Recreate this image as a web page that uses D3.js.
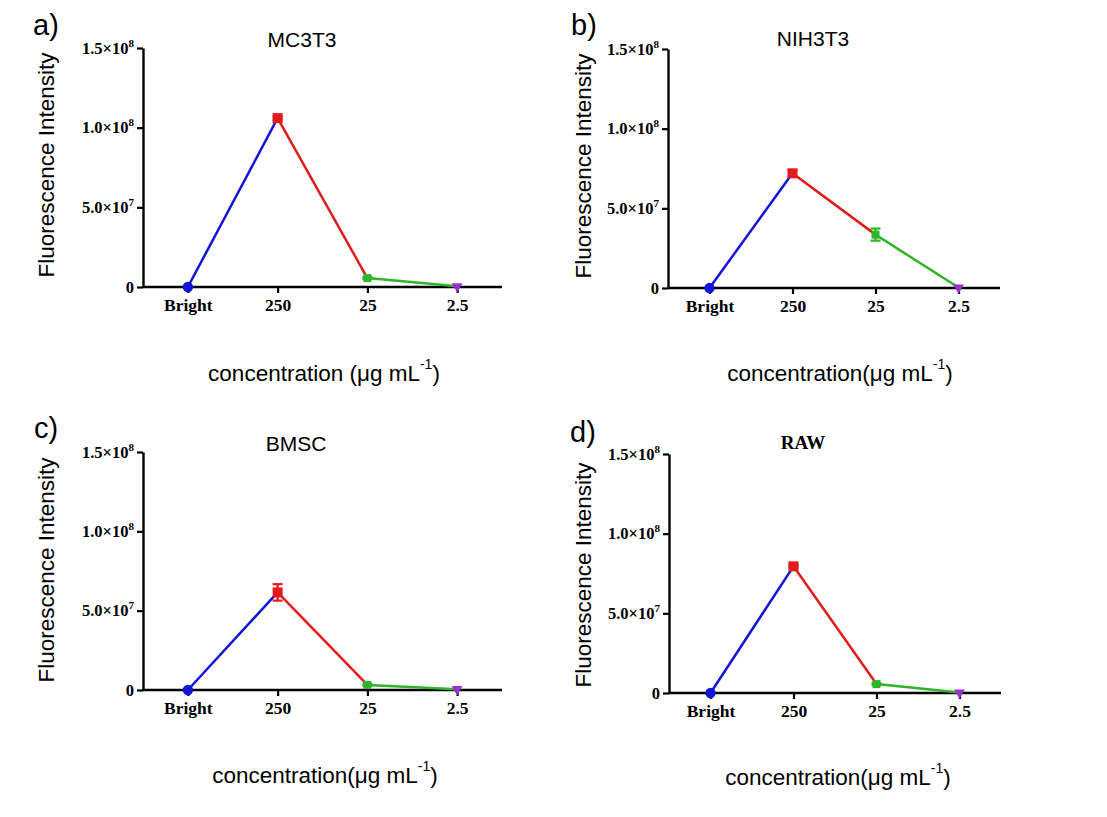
<!DOCTYPE html>
<html>
<head>
<meta charset="utf-8">
<script src="https://cdn.jsdelivr.net/npm/d3@7"></script>
<style>
  body { margin: 0; background: #fff; }
  svg { display: block; }
</style>
</head>
<body>
<svg id="chart" width="1107" height="817"></svg>
<script>
// data
var categories = ["Bright", "250", "25", "2.5"];
var cellLines = ["MC3T3", "NIH3T3", "BMSC", "RAW"];
var panelTags = ["a)", "b)", "c)", "d)"];

var mc3t3Values = [0, 1.06e8, 5.6e6, 0.4e6];
var mc3t3Errors = [0, 1.0e6, 0.6e6, 0];
var nih3t3Values = [0, 7.2e7, 3.35e7, 0.3e6];
var nih3t3Errors = [0, 2.0e6, 3.8e6, 0];
var bmscValues = [0, 6.15e7, 3.2e6, 0.5e6];
var bmscErrors = [0, 5.2e6, 0.6e6, 0];
var rawValues = [0, 7.95e7, 5.6e6, 0.3e6];
var rawErrors = [0, 0.8e6, 0.6e6, 0];

var yTicks = [0, 5e7, 1e8, 1.5e8];
var yMax = 1.5e8;

var seriesValues = [mc3t3Values, nih3t3Values, bmscValues, rawValues];
var seriesErrors = [mc3t3Errors, nih3t3Errors, bmscErrors, rawErrors];

var segColors = ["#1414d8", "#e21b1b", "#2fb42a"];
var markColors = ["#1414d8", "#e21b1b", "#2fb42a", "#9a2fd0"];

// panel boxes (plot area) and label spots
var panels = [
  {x0: 143, x1: 502, top: 48, bot: 287, tag: [33, 35], title: [302, 39], yl: [46, 165], xl: [324, 373], sp: true, serifTitle: false},
  {x0: 668, x1: 1000, top: 49, bot: 288, tag: [571, 35], title: [813, 38], yl: [583, 166], xl: [840, 373], sp: false, serifTitle: false},
  {x0: 143, x1: 502, top: 452, bot: 690, tag: [34, 438], title: [296, 443], yl: [46, 570], xl: [325, 775], sp: false, serifTitle: false},
  {x0: 669, x1: 1001, top: 454, bot: 693, tag: [570, 442], title: [803, 442], yl: [583, 575], xl: [838, 777], sp: false, serifTitle: true}
];

var svg = d3.select("#chart");
var sans = "'Liberation Sans', Arial, sans-serif";
var serif = "'Liberation Serif', 'Times New Roman', serif";

function yLabelParts(v) {
  if (v === 0) return ["0", null];
  var e = Math.floor(Math.log10(v));
  var m = v / Math.pow(10, e);
  return [m.toFixed(1) + "\u00d710", String(e)];
}

panels.forEach(function(p, i) {
  var g = svg.append("g");
  var vals = seriesValues[i], errs = seriesErrors[i];

  var x = d3.scalePoint().domain(categories).range([p.x0, p.x1]).padding(0.5);
  var y = d3.scaleLinear().domain([0, yMax]).range([p.bot, p.top]);

  // y axis
  var ya = g.append("g")
      .attr("transform", "translate(" + p.x0 + ",0)")
      .call(d3.axisLeft(y).tickValues(yTicks).tickSize(6).tickSizeOuter(0).tickPadding(3));
  ya.select(".domain").attr("stroke", "#000").attr("stroke-width", 2.4);
  ya.selectAll(".tick line").attr("stroke", "#000").attr("stroke-width", 2.2);
  ya.selectAll(".tick text").each(function(d) {
    var t = d3.select(this).text("")
        .attr("font-family", serif).attr("font-weight", "bold")
        .attr("font-size", 16.5).attr("fill", "#000");
    var parts = yLabelParts(d);
    t.append("tspan").text(parts[0]);
    if (parts[1]) {
      t.append("tspan").attr("font-size", 11).attr("dy", -7).text(parts[1]);
    }
  });

  // x axis
  var xa = g.append("g")
      .attr("transform", "translate(0," + p.bot + ")")
      .call(d3.axisBottom(x).tickSize(6).tickSizeOuter(0).tickPadding(6));
  xa.select(".domain").attr("stroke", "#000").attr("stroke-width", 2.4)
      .attr("d", "M" + p.x0 + ",0H" + p.x1);
  xa.selectAll(".tick line").attr("stroke", "#000").attr("stroke-width", 2.2);
  xa.selectAll(".tick text")
      .attr("font-family", serif).attr("font-weight", "bold")
      .attr("font-size", 17.5).attr("fill", "#000");

  // coloured segments
  for (var k = 0; k < categories.length - 1; k++) {
    g.append("line")
        .attr("x1", x(categories[k])).attr("y1", y(vals[k]))
        .attr("x2", x(categories[k + 1])).attr("y2", y(vals[k + 1]))
        .attr("stroke", segColors[k]).attr("stroke-width", 2.5);
  }

  // error bars
  categories.forEach(function(c, k) {
    if (!errs[k]) return;
    var cx = x(c), yt = y(vals[k] + errs[k]), yb = y(vals[k] - errs[k]);
    var eg = g.append("g").attr("stroke", markColors[k]).attr("stroke-width", 2.2);
    eg.append("line").attr("x1", cx).attr("x2", cx).attr("y1", yt).attr("y2", yb);
    eg.append("line").attr("x1", cx - 5).attr("x2", cx + 5).attr("y1", yt).attr("y2", yt);
    eg.append("line").attr("x1", cx - 5).attr("x2", cx + 5).attr("y1", yb).attr("y2", yb);
  });

  // markers
  var shapes = [
    d3.symbol().type(d3.symbolCircle).size(85),
    d3.symbol().type(d3.symbolSquare).size(100),
    d3.symbol().type(d3.symbolSquare).size(64),
    d3.symbol().type(d3.symbolTriangle).size(50)
  ];
  categories.forEach(function(c, k) {
    g.append("path")
        .attr("d", shapes[k]())
        .attr("transform", "translate(" + x(c) + "," + y(vals[k]) + ")" + (k === 3 ? " rotate(180)" : ""))
        .attr("fill", markColors[k]);
  });

  // panel tag
  g.append("text")
      .attr("x", p.tag[0]).attr("y", p.tag[1])
      .attr("font-family", sans).attr("font-size", 29)
      .text(panelTags[i]);

  // title
  g.append("text")
      .attr("x", p.title[0]).attr("y", p.title[1])
      .attr("text-anchor", "middle").attr("dominant-baseline", "central")
      .attr("font-family", p.serifTitle ? serif : sans)
      .attr("font-weight", p.serifTitle ? "bold" : "normal")
      .attr("font-size", p.serifTitle ? 19 : 21)
      .text(cellLines[i]);

  // y label
  g.append("text")
      .attr("transform", "translate(" + p.yl[0] + "," + p.yl[1] + ") rotate(-90)")
      .attr("text-anchor", "middle").attr("dominant-baseline", "central")
      .attr("font-family", sans).attr("font-size", 22.5)
      .text("Fluorescence Intensity");

  // x label
  var xl = g.append("text")
      .attr("x", p.xl[0]).attr("y", p.xl[1])
      .attr("text-anchor", "middle").attr("dominant-baseline", "central")
      .attr("font-family", sans).attr("font-size", 22.5);
  xl.append("tspan").text(p.sp ? "concentration (\u03bcg mL" : "concentration(\u03bcg mL");
  xl.append("tspan").attr("font-size", 14).attr("dy", -9).text("-1");
  xl.append("tspan").attr("dy", 9).text(")");
});
</script>
</body>
</html>
